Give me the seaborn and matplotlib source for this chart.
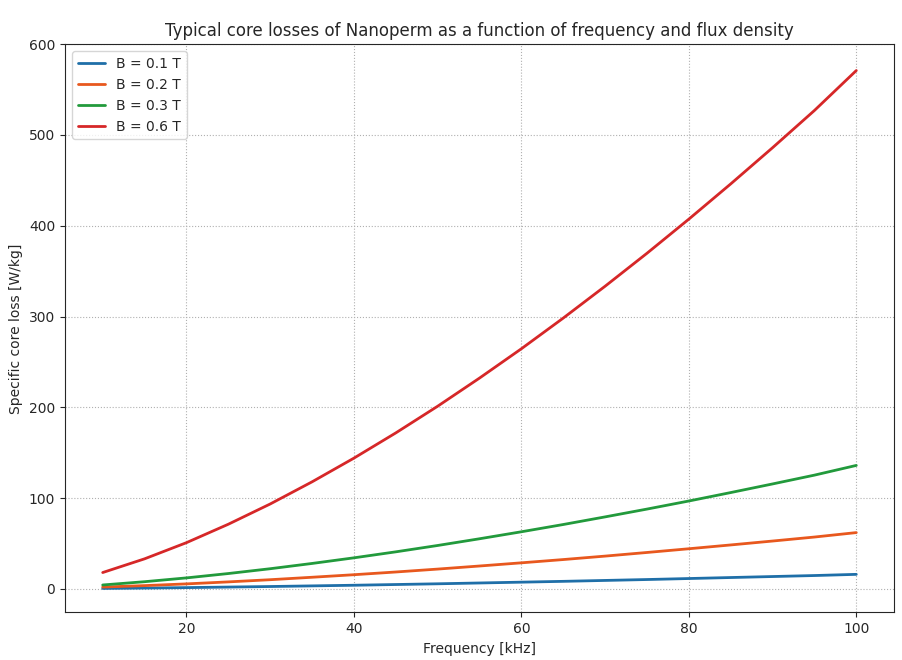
import pandas as pd
import numpy as np
import matplotlib
matplotlib.use("Agg")
import matplotlib.pyplot as plt
import seaborn as sns

# ================================
# DATA
# ================================

freq_khz = [10, 15, 20, 25, 30, 35, 40, 45, 50, 55,
            60, 65, 70, 75, 80, 85, 90, 95, 100]

loss_b01 = [0.5, 0.9, 1.4, 2.0, 2.6, 3.3, 4.0, 4.8, 5.6, 6.5,
            7.4, 8.3, 9.3, 10.3, 11.4, 12.5, 13.6, 14.7, 16.0]
loss_b02 = [2.0, 3.6, 5.5, 7.7, 10.1, 12.8, 15.6, 18.6, 21.8, 25.2,
            28.7, 32.3, 36.1, 40.1, 44.2, 48.4, 52.7, 57.1, 62.0]
loss_b03 = [4.3, 7.9, 12.1, 16.9, 22.2, 28.0, 34.2, 40.8, 47.8, 55.2,
            62.9, 70.9, 79.3, 87.9, 96.8, 106.1, 115.6, 125.3, 136.0]
loss_b06 = [18.0, 33.1, 50.9, 71.2, 93.5, 117.9, 144.0, 171.8, 201.2, 232.2,
            264.5, 298.3, 333.4, 369.7, 407.3, 446.1, 486.0, 527.0, 571.0]

series_labels = ["B = 0.1 T", "B = 0.2 T", "B = 0.3 T", "B = 0.6 T"]
colors = ["#1f6fa8", "#e8581e", "#229a3c", "#d62728"]

# long format for seaborn
frames = []
for label, vals in zip(series_labels, [loss_b01, loss_b02, loss_b03, loss_b06]):
    frames.append(pd.DataFrame({"freq": freq_khz, "loss": vals, "B": label}))
df = pd.concat(frames, ignore_index=True)

# ================================
# PLOT
# ================================

sns.set_style("ticks")
plt.rcParams["font.family"] = ["DejaVu Sans"]

fig, ax = plt.subplots(figsize=(9.03, 6.6), dpi=100)

sns.lineplot(
    data=df, x="freq", y="loss", hue="B",
    palette=colors, linewidth=2, ax=ax
)

ax.grid(True, linestyle=":", color="#b0b0b0", linewidth=0.8)
ax.set_xlabel("Frequency [kHz]", fontsize=10)
ax.set_ylabel("Specific core loss [W/kg]", fontsize=10)
ax.set_title("Typical core losses of Nanoperm as a function of frequency and flux density",
             fontsize=12)
ax.set_yticks(range(0, 601, 100))
ax.set_ylim(-26, 600)
ax.tick_params(labelsize=10)

leg = ax.legend(loc="upper left", fontsize=10, title=None)
for line in leg.get_lines():
    line.set_linewidth(2)

fig.subplots_adjust(left=0.072, right=0.99, top=0.933, bottom=0.072)
fig.savefig("out.png", dpi=100)
